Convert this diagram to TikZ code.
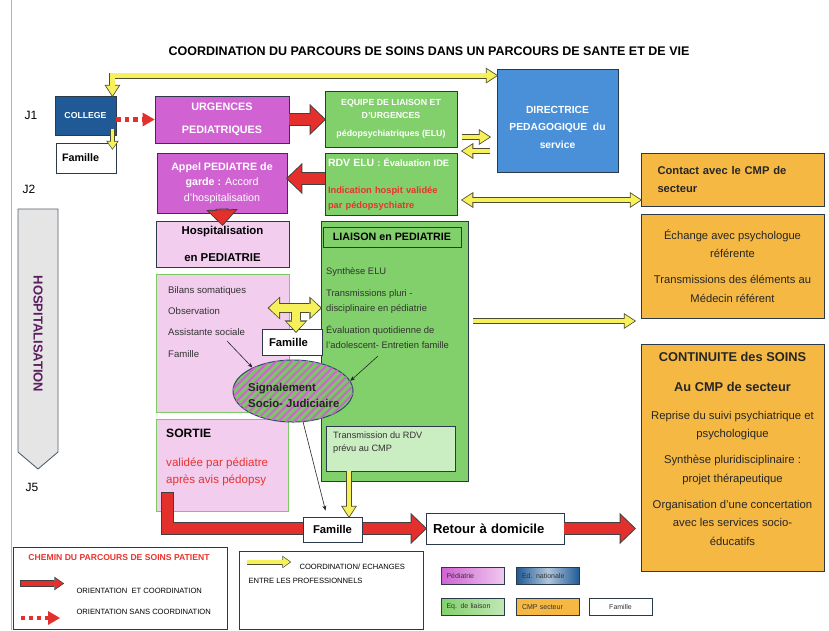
\documentclass[tikz,border=0pt]{standalone}
\usepackage{fontspec}
\setmainfont{Liberation Sans}
\usetikzlibrary{arrows.meta,calc,shapes.geometric,patterns.meta}

\definecolor{magbox}{HTML}{D062D2}
\definecolor{pinkbox}{HTML}{F2CDEE}
\definecolor{greenbox}{HTML}{82D06B}
\definecolor{greenpale}{HTML}{CBEDC2}
\definecolor{greenedge}{HTML}{7CCB62}
\definecolor{bluecol}{HTML}{1F5A96}
\definecolor{bluedir}{HTML}{4A90D9}
\definecolor{orangecmp}{HTML}{F5B843}
\definecolor{redpath}{HTML}{E3302C}
\definecolor{redtext}{HTML}{E8332E}
\definecolor{yelcoord}{HTML}{F6F15B}
\definecolor{yeledge}{HTML}{4D4D33}
\definecolor{boxedge}{HTML}{2B3A4A}
\definecolor{greyhosp}{HTML}{E5E5E6}
\definecolor{purplehosp}{HTML}{5C1E5F}
\definecolor{ellipseedge}{HTML}{2E4A6B}

\tikzset{
  % pointes des fleches epaisses (interieur / contour)
  yin/.tip={Triangle[length=10pt,width=13pt,line width=0pt]},
  yout/.tip={Triangle[length=12.3pt,width=16pt,line width=0pt]},
  ysin/.tip={Triangle[length=7pt,width=10pt,line width=0pt]},
  ysout/.tip={Triangle[length=8.9pt,width=12.6pt,line width=0pt]},
  ybin/.tip={Triangle[length=10pt,width=19pt,line width=0pt]},
  ybout/.tip={Triangle[length=12.6pt,width=23pt,line width=0pt]},
  rin/.tip={Triangle[length=14pt,width=27pt,line width=0pt]},
  rout/.tip={Triangle[length=16.4pt,width=31.5pt,line width=0pt]},
  rsin/.tip={Triangle[length=8pt,width=11pt,line width=0pt]},
  rsout/.tip={Triangle[length=9.9pt,width=13.7pt,line width=0pt]},
  box/.style={draw=boxedge, line width=0.9pt, align=center, inner sep=2pt},
  swatch/.style={box, minimum width=63pt, minimum height=17pt, text width=52pt, align=left,
    text=black!80, font=\fontsize{7}{8}\selectfont},
  yarrow/.style={draw=yelcoord, line width=4.4pt, -{yin},
    preaction={draw=yeledge, line width=6pt, -{yout}, shorten >=-1.5pt}},
  yarrows/.style={draw=yelcoord, line width=4.4pt, {yin}-{yin},
    preaction={draw=yeledge, line width=6pt, {yout}-{yout}, shorten >=-1.5pt, shorten <=-1.5pt}},
  yarrowsmall/.style={draw=yelcoord, line width=3.6pt, -{ysin},
    preaction={draw=yeledge, line width=5pt, -{ysout}, shorten >=-1.2pt}},
  ybigout/.style={draw=yeledge, line width=10pt},
  ybigin/.style={draw=yelcoord, line width=8pt},
  rarrow/.style={draw=redpath, line width=11pt, -{rin},
    preaction={draw=black!75, line width=12.6pt, -{rout}, shorten >=-1.4pt, shorten <=-0.8pt}},
  rarrowsmall/.style={draw=redpath, line width=4.8pt, -{rsin},
    preaction={draw=black!75, line width=6.2pt, -{rsout}, shorten >=-1.2pt, shorten <=-0.7pt}},
  rdots/.style={draw=redpath, line width=4.5pt, dash pattern=on 4.5pt off 4pt,
    -{Triangle[length=12pt,width=14pt,line width=0pt]}},
  thinarrow/.style={draw=black!85, line width=0.6pt, -{Stealth[length=5pt,width=4pt]}},
}

\begin{document}
\begin{tikzpicture}[x=1pt, y=-1pt]
  \useasboundingbox (0,0) rectangle (829,630);
  % bord gauche de la page
  \draw[gray!60, line width=0.8pt] (11,0) -- (11,630);

  % titre et jours
  \node[font=\bfseries\fontsize{12.5}{14}\selectfont] (titre) at (429,51)
    {COORDINATION DU PARCOURS DE SOINS DANS UN PARCOURS DE SANTE ET DE VIE};
  \node[font=\fontsize{12}{14}\selectfont] (j1) at (31,115) {J1};
  \node[font=\fontsize{12}{14}\selectfont] (j2) at (29,189) {J2};
  \node[font=\fontsize{12}{14}\selectfont] (j5) at (32,487) {J5};

  % fleche HOSPITALISATION
  \draw[draw=boxedge!80, line width=0.9pt, fill=greyhosp]
    (18,209) -- (58,209) -- (58,452) -- (38,469) -- (18,452) -- cycle;
  \node[rotate=-90, text=purplehosp, font=\bfseries\fontsize{13}{15}\selectfont] (hosp-txt)
    at (38,334) {HOSPITALISATION};

  % college et famille
  \node[box, fill=bluecol, text=white, minimum width=61pt, minimum height=39pt,
    font=\bfseries\fontsize{8.7}{10}\selectfont] (college) at (85.5,115.5) {COLLEGE};
  \node[box, fill=white, minimum width=60pt, minimum height=30pt, text width=48pt, align=left,
    font=\bfseries\fontsize{10.8}{12}\selectfont] (famille1) at (86,158) {Famille};

  % urgences et pediatrie
  \node[box, fill=magbox, text=white, minimum width=134pt, minimum height=47pt,
    font=\bfseries\fontsize{10.8}{23}\selectfont] (urgences) at (222,119.5) {URGENCES\\PEDIATRIQUES};
  \node[box, fill=magbox, text=white, minimum width=130pt, minimum height=60pt,
    font=\fontsize{10.7}{15.5}\selectfont] (appel) at (222,183)
    {\textbf{Appel PEDIATRE de}\\\textbf{garde :} Accord\\d’hospitalisation};
  \node[box, fill=pinkbox, minimum width=133pt, minimum height=46pt,
    font=\bfseries\fontsize{11.4}{27}\selectfont] (hospit) at (222.5,244) {Hospitalisation\\en PEDIATRIE};
  \node[box, draw=greenedge, fill=pinkbox, minimum width=133pt, minimum height=138pt] (soins) at (222.5,343) {};
  \node[anchor=north west, inner sep=0pt, align=left, text=black!80,
    font=\fontsize{9.6}{21.3}\selectfont] (soins-txt) at (168,286)
    {Bilans somatiques\\Observation\\Assistante sociale\\Famille};
  \node[box, draw=greenedge, fill=pinkbox, minimum width=132pt, minimum height=92pt] (sortie) at (222,465) {};
  \node[anchor=north west, inner sep=0pt, align=left, font=\fontsize{11.6}{17}\selectfont] (sortie-txt)
    at (166,428.5) {\textbf{\fontsize{12.1}{17}\selectfont SORTIE}\\[12pt]\textcolor{redtext}{validée par pédiatre}\\\textcolor{redtext}{après avis pédopsy}};

  % equipe de liaison
  \node[box, fill=greenbox, text=white, minimum width=132pt, minimum height=56pt,
    font=\bfseries\fontsize{8.8}{13}\selectfont] (elu) at (391,119)
    {EQUIPE DE LIAISON ET\\D’URGENCES\\[5pt]pédopsychiatriques (ELU)};
  \node[box, fill=greenbox, minimum width=132pt, minimum height=62pt, text width=126pt,
    inner xsep=3pt, align=left, font=\bfseries\fontsize{9.3}{15}\selectfont] (rdv) at (391,184)
    {\textcolor{white}{{\fontsize{10.5}{15}\selectfont RDV ELU} : Évaluation IDE}\\[12pt]\textcolor{redtext}{Indication hospit validée}\\\textcolor{redtext}{par pédopsychiatre}};
  \node[box, fill=greenbox, minimum width=147pt, minimum height=260pt] (liaison) at (394.5,351) {};
  \node[box, fill=greenbox, minimum width=138pt, minimum height=20pt,
    font=\bfseries\fontsize{10.7}{12}\selectfont] (liaison-titre) at (392,237) {LIAISON en PEDIATRIE};
  \node[anchor=north west, inner sep=0pt, align=left, text=black!80,
    font=\fontsize{9.4}{15}\selectfont] (liaison-txt) at (326,267.5)
    {Synthèse ELU\\[7pt]Transmissions pluri -\\disciplinaire en pédiatrie\\[7pt]Évaluation quotidienne de\\l’adolescent- Entretien famille};
  \node[box, fill=greenpale, minimum width=129pt, minimum height=45pt] (transmission) at (390.5,448.5) {};
  \node[anchor=north west, inner sep=0pt, align=left, text=black!80,
    font=\fontsize{9.2}{13}\selectfont] (transmission-txt) at (333,431.5) {Transmission du RDV\\prévu au CMP};

  % directrice et CMP
  \node[box, fill=bluedir, minimum width=121pt, minimum height=103pt] (directrice) at (557.5,120.5) {};
  \node[text=white, align=center, font=\bfseries\fontsize{10.3}{17.5}\selectfont] (directrice-txt)
    at (557.5,127) {DIRECTRICE\\PEDAGOGIQUE~ du\\service};
  \node[box, fill=orangecmp, text=black!85, minimum width=183pt, minimum height=53pt, text width=150pt,
    align=left, font=\bfseries\fontsize{11.2}{18}\selectfont] (contact) at (732.5,179.5)
    {Contact avec le CMP de\\secteur};
  \node[box, fill=orangecmp, text=black!85, minimum width=183pt, minimum height=104pt,
    font=\fontsize{11.2}{18.5}\selectfont] (echange) at (732.5,266)
    {Échange avec psychologue\\référente\\[7.5pt]Transmissions des éléments au\\Médecin référent};
  \node[box, fill=orangecmp, minimum width=183pt, minimum height=227pt] (continuite) at (732.5,457.5) {};
  \node[anchor=north, inner sep=0pt, align=center, text=black!85,
    font=\fontsize{11.3}{18.5}\selectfont] (continuite-txt) at (732.5,352)
    {{\bfseries\fontsize{12.8}{18.5}\selectfont CONTINUITE des SOINS}\\[11.5pt]{\bfseries\fontsize{12.8}{18.5}\selectfont Au CMP de secteur}\\[9.5pt]Reprise du suivi psychiatrique et\\psychologique\\[7.5pt]Synthèse pluridisciplinaire :\\projet thérapeutique\\[7.5pt]Organisation d’une concertation\\avec les services socio-\\éducatifs};

  % famille et signalement
  \node[box, fill=white, minimum width=60pt, minimum height=26pt, text width=46pt, align=left,
    font=\bfseries\fontsize{11.3}{13}\selectfont] (famille2) at (292,342) {Famille};
  \node[ellipse, draw=ellipseedge, line width=1pt, fill=greenbox!95!black, minimum width=120pt,
    minimum height=62pt, postaction={pattern={Lines[angle=45,distance=5.5pt,line width=2pt]},
    pattern color=magbox}] (signal) at (293,391) {};
  \node[anchor=west, inner sep=0pt, align=left, text=black!85,
    font=\bfseries\fontsize{11.4}{16}\selectfont] (signal-txt) at (248,395) {Signalement\\Socio- Judiciaire};
  \node[box, fill=white, minimum width=138pt, minimum height=31pt, text width=124pt, align=left,
    font=\bfseries\fontsize{13.1}{15}\selectfont] (retour) at (495,528.5) {Retour à domicile};

  % chemin du patient (rouge)
  \draw[rdots] (college.east |- urgences.west) -- (urgences.west);
  \draw[rarrow] (urgences.east) -- (urgences.east -| elu.west);
  \draw[rarrow] ($(rdv.west |- appel.east)+(0,-4.5)$) -- ($(appel.east)+(0,-4.5)$);
  \draw[rarrow] ($(appel.south)+(0,-4)$) -- ($(hospit.north)+(0,4)$);
  \coordinate (sortie-depart) at (167.5,493);
  \draw[rarrow] (sortie-depart) |- (retour.west);
  \draw[rarrow] (retour.east) -- ($(retour.east -| continuite.west)+(-6,0)$);
  \node[box, fill=white, minimum width=59pt, minimum height=25pt,
    font=\bfseries\fontsize{11.3}{13}\selectfont] (famille3) at (332.5,529.5) {Famille};

  % coordination (jaune)
  \draw[yarrows] ($(college.north east)+(-4,0)$) |- ($(directrice.north west)+(0,7)$);
  \draw[yarrowsmall] ($(college.south east)+(-4,-6)$) -- ($(famille1.north east)+(-4,6)$);
  \draw[yarrow] ($(elu.east)+(5,18)$) -- ($(directrice.west)+(-7,16.5)$);
  \draw[yarrow] ($(directrice.west)+(-7,30.5)$) -- ($(elu.east)+(5,32)$);
  \draw[yarrows] ($(rdv.east)+(5,16)$) -- ($(contact.west)+(0,20.5)$);
  \draw[yarrow] ($(liaison.east)+(5,-30)$) -- ($(echange.west)+(-6,55)$);
  \coordinate (tgauche) at (269,308);
  \coordinate (tmilieu) at (296,308);
  \draw[ybigout, {ybout}-{ybout}, shorten <=-1.4pt, shorten >=-1.4pt] (tgauche) -- (tgauche -| liaison.west);
  \draw[ybigout, -{ybout}, shorten >=-1.4pt] (tmilieu) -- ($(tmilieu |- famille2.north)+(0,3)$);
  \draw[ybigin, {ybin}-{ybin}] (tgauche) -- (tgauche -| liaison.west);
  \draw[ybigin, -{ybin}] (tmilieu) -- ($(tmilieu |- famille2.north)+(0,3)$);
  \coordinate (ydepart) at (349,471);
  \draw[yarrow] (ydepart) -- (ydepart |- famille3.north);

  % fleches fines vers le signalement
  \coordinate (as-depart) at (227,341);
  \coordinate (ent-depart) at (378,356);
  \draw[thinarrow] (as-depart) -- (signal.150);
  \draw[thinarrow] (ent-depart) -- (signal.10);
  \draw[thinarrow] (signal.-72) -- ($(famille3.north)+(-7,-6)$);

  % legende
  \node[draw=boxedge, line width=0.9pt, minimum width=214pt, minimum height=82pt] (legende1) at (120,588) {};
  \node[text=redtext, font=\bfseries\fontsize{8.6}{10}\selectfont] (leg-chemin) at (119,558)
    {CHEMIN DU PARCOURS DE SOINS PATIENT};
  \coordinate (leg-r1) at (21,583.5);
  \coordinate (leg-r2) at (63,583.5);
  \draw[rarrowsmall] (leg-r1) -- (leg-r2);
  \node[anchor=west, font=\fontsize{7.6}{9}\selectfont] (leg-orient) at (73,591) {ORIENTATION\ \ ET COORDINATION};
  \coordinate (leg-d1) at (21,618);
  \coordinate (leg-d2) at (60,618);
  \draw[rdots, line width=4pt, dash pattern=on 4pt off 4pt] (leg-d1) -- (leg-d2);
  \node[anchor=west, font=\fontsize{7.6}{9}\selectfont] (leg-sans) at (73,612) {ORIENTATION SANS COORDINATION};

  \node[draw=boxedge, line width=0.9pt, minimum width=184pt, minimum height=78pt] (legende2) at (331,590) {};
  \coordinate (leg-y1) at (247,562);
  \coordinate (leg-y2) at (290,562);
  \draw[yarrowsmall] (leg-y1) -- (leg-y2);
  \node[anchor=west, font=\fontsize{7.6}{9}\selectfont] (leg-coord) at (296,567) {COORDINATION/ ECHANGES};
  \node[anchor=west, font=\fontsize{7.6}{9}\selectfont] (leg-entre) at (245,581) {ENTRE LES PROFESSIONNELS};

  \node[swatch, left color=magbox, right color=magbox!35] (sw-ped) at (472.5,575.5) {Pédiatrie};
  \node[swatch, left color=bluecol, right color=bluecol, middle color=bluecol!35] (sw-edu) at (548,575.5) {Ed. nationale};
  \node[swatch, left color=greenbox, right color=greenbox!50] (sw-liaison) at (472.5,607) {Eq. de liaison};
  \node[swatch, fill=orangecmp] (sw-cmp) at (548,607) {CMP secteur};
  \node[swatch, fill=white, align=center] (sw-famille) at (620.5,607) {Famille};
\end{tikzpicture}
\end{document}
